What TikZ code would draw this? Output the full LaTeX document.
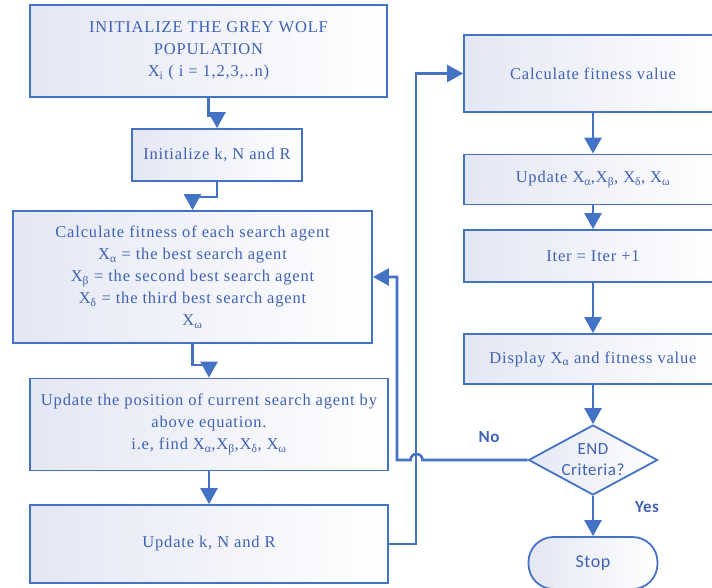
\documentclass[tikz,border=0pt]{standalone}
\usepackage{fontspec}
\setmainfont{Liberation Serif}[LetterSpace=5]
\newfontfamily\calib{Carlito}[LetterSpace=3]
\usetikzlibrary{arrows.meta,shapes.geometric,positioning}
\definecolor{wolfblue}{HTML}{4472C4}
\definecolor{wolftext}{HTML}{3F62B4}
\definecolor{wolfshade}{HTML}{E4E7F4}
\begin{document}
\begin{tikzpicture}[x=1pt,y=-1pt,line width=2.6pt,
  arr/.style={draw=wolfblue,-{Triangle[width=17pt,length=16pt]}},
  main node/.style={draw=wolfblue,line width=1.8pt,align=center,font=\fontsize{16.5}{22}\selectfont,
    text=wolftext,left color=wolfshade,right color=white,inner sep=0pt},
  test node/.style={diamond,aspect=1.85,draw=wolfblue,line width=1.8pt,align=center,
    font=\calib\fontsize{17}{21}\selectfont,text=wolftext,left color=wolfshade,right color=white,inner sep=0pt},
  lbl/.style={font=\calib\bfseries\fontsize{17}{18}\selectfont,text=wolftext}]
\useasboundingbox (0,0) rectangle (712,587);
\clip (0,0) rectangle (712,587);
% left column
\node[main node,minimum width=357pt,minimum height=92pt] (init) at (208.5,51)
  {INITIALIZE THE GREY WOLF\\POPULATION\\X\textsubscript{i} ( i = 1,2,3,..n)};
\node[main node,minimum width=170pt,minimum height=52pt] (initk) at (217,155)
  {Initialize k, N and R};
\node[main node,minimum width=359pt,minimum height=132pt] (fitness) at (192.5,277)
  {Calculate fitness of each search agent\\
   X\textsubscript{α} = the best search agent\\
   X\textsubscript{β} = the second best search agent\\
   X\textsubscript{δ} = the third best search agent\\
   X\textsubscript{ω}};
\node[main node,minimum width=358pt,minimum height=92pt] (updpos) at (209,424.5)
  {Update the position of current search agent by\\above equation.\\
   i.e, find X\textsubscript{α},X\textsubscript{β},X\textsubscript{δ}, X\textsubscript{ω}};
\node[main node,minimum width=358pt,minimum height=78pt] (updk) at (209,544)
  {Update k, N and R};
% right column
\node[main node,minimum width=258pt,minimum height=77pt] (calc) at (593,73.5)
  {Calculate fitness value};
\node[main node,minimum width=258pt,minimum height=50pt] (updx) at (593,179.5)
  {Update X\textsubscript{α},X\textsubscript{β}, X\textsubscript{δ}, X\textsubscript{ω}};
\node[main node,minimum width=258pt,minimum height=52pt] (iter) at (593,256)
  {Iter = Iter +1};
\node[main node,minimum width=258pt,minimum height=50pt] (disp) at (593,359)
  {Display X\textsubscript{α} and fitness value};
\node[test node,minimum width=129pt,minimum height=70pt] (endc) at (593,460)
  {END\\Criteria?};
\node[main node,font=\calib\fontsize{18}{20}\selectfont,rounded corners=25pt,
  minimum width=129pt,minimum height=52pt] (stop) at (593,563) {Stop};
\node[lbl] (no) at (489,437) {No};
\node[lbl] (yes) at (647,507) {Yes};
% connectors
\draw[arr] (init.south) -- ++(0,18) -| (initk.north);
\draw[arr] (initk.south) -- ++(0,15) -| (fitness.north);
\draw[arr] (fitness.south) -- ++(0,21) -| (updpos.north);
\draw[arr] (updpos) -- (updk);
\draw[arr] (updk.east) -- (416,544) |- (calc.west);
\draw[arr] (calc) -- (updx);
\draw[arr] (updx) -- (iter);
\draw[arr] (iter) -- (disp);
\draw[arr] (disp) -- (endc);
\draw[arr] (endc) -- (stop);
\draw[arr] (endc.west) -- (422.5,460) arc[start angle=0,end angle=-180,radius=6]
  -- (397,460) |- (fitness.east);
\end{tikzpicture}
\end{document}
